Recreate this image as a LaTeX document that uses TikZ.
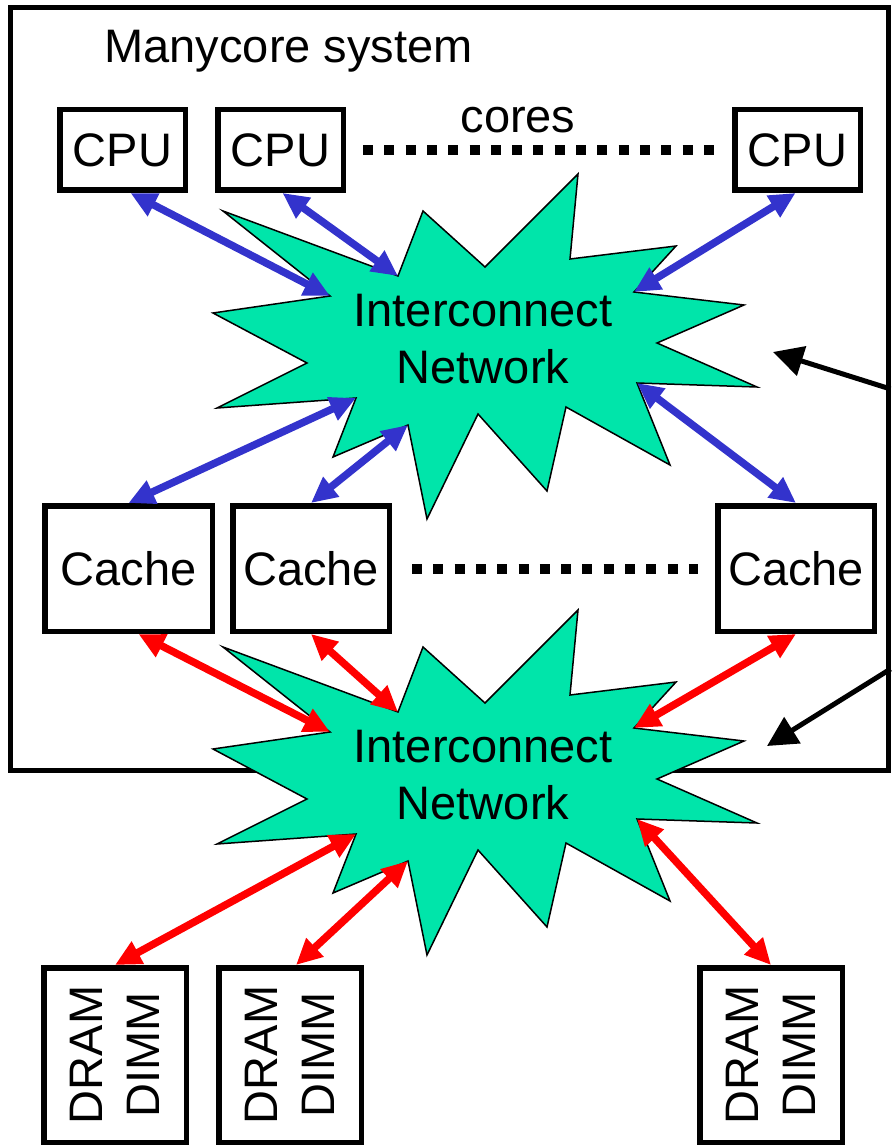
\documentclass[tikz,border=0pt]{standalone}
\usepackage{fontspec}
\setmainfont{Liberation Sans}
\usepackage{tikz}
\usetikzlibrary{arrows.meta, positioning}
\definecolor{netgreen}{RGB}{0,229,170}
\definecolor{linkblue}{RGB}{51,51,204}

% interconnect starburst: #1 = name, #2 = vertical offset
\newcommand{\netburst}[2]{%
  \begin{scope}[shift={(0,#2)}]
    \draw[burst] (578,174) -- (570,259) -- (676,246) -- (634,292) -- (744,305)
      -- (657,343) -- (757,387) -- (637,383) -- (670,465) -- (566,407)
      -- (547,491) -- (478,414) -- (427,519) -- (408,425) -- (333,457)
      -- (356,398) -- (217,408) -- (307,363) -- (213,313) -- (330,296)
      -- (223,211) -- (398,276) -- (423,211) -- (485,267) -- cycle;
    \coordinate (#1-nw) at (330,296);
    \coordinate (#1-n)  at (398,276);
    \coordinate (#1-ne) at (634,292);
    \coordinate (#1-sw) at (356,398);
    \coordinate (#1-s)  at (408,425);
    \coordinate (#1-se) at (637,383);
    \node[nettext] (#1) at (483,339) {Interconnect\\Network};
  \end{scope}}

\begin{document}
\begin{tikzpicture}[x=1pt, y=-1pt,
    every node/.style={font=\fontsize{47}{57}\selectfont},
    box/.style={draw, line width=5.5pt, inner sep=0pt},
    cpubox/.style={box, minimum width=125.5pt, minimum height=80.5pt},
    cachebox/.style={box, minimum width=156.5pt, minimum height=125.5pt},
    drambox/.style={box, rotate=90, align=center, minimum width=174.5pt, minimum height=142.5pt},
    burst/.style={draw, line width=1.5pt, fill=netgreen},
    nettext/.style={align=center, inner sep=0pt},
    blink/.style={line width=7.5pt, linkblue, {Triangle[length=26pt,width=24pt]}-{Triangle[length=26pt,width=24pt]}},
    rlink/.style={line width=7.5pt, red, {Triangle[length=26pt,width=24pt]}-{Triangle[length=26pt,width=24pt]}},
    hint/.style={line width=5pt, -{Triangle[length=30pt,width=30pt]}},
    dotrow/.style={line width=10pt, dash pattern=on 10pt off 11.3pt}]
  \useasboundingbox (0,0) rectangle (893,1147);

  \node[box, line width=5pt, minimum width=878pt, minimum height=762pt] (sys) at (449,389) {};
  \node[anchor=base west] (title) at (101,63) {Manycore system};

  % cores
  \node[cpubox] (cpu1) at (122.5,150) {CPU};
  \node[cpubox, right=27pt of cpu1] (cpu2) {CPU};
  \node[cpubox] (cpu3) at (797.5,150) {CPU};
  \node[anchor=base] (cores) at (518,133) {cores};
  \draw[dotrow] ([xshift=17pt]cpu2.east) -- ([xshift=-18pt]cpu3.west);

  % caches
  \node[cachebox, minimum width=167.5pt] (cache1) at (128.5,568.5) {Cache};
  \node[cachebox, right=15pt of cache1] (cache2) {Cache};
  \node[cachebox] (cache3) at (796,568.5) {Cache};
  \draw[dotrow] ([xshift=20pt]cache2.east) -- ([xshift=-17pt]cache3.west);

  % memory
  \node[drambox] (dram1) at (115,1055) {DRAM\\DIMM};
  \node[drambox] (dram2) at (290,1055) {DRAM\\DIMM};
  \node[drambox] (dram3) at (771,1055) {DRAM\\DIMM};

  \netburst{net1}{0}
  \netburst{net2}{436}

  \draw[blink] ([xshift=8pt]cpu1.south) -- (net1-nw);
  \draw[blink] ([xshift=2pt]cpu2.south) -- (net1-n);
  \draw[blink] ([xshift=-2pt]cpu3.south) -- (net1-ne);
  \draw[blink] (cache1.north) -- (net1-sw);
  \draw[blink] (cache2.north) -- (net1-s);
  \draw[blink] (cache3.north) -- (net1-se);

  \draw[rlink] ([xshift=10pt]cache1.south) -- (net2-nw);
  \draw[rlink] (cache2.south) -- (net2-n);
  \draw[rlink] (cache3.south) -- (net2-ne);
  \draw[rlink] (dram1.east) -- (net2-sw);
  \draw[rlink] ([xshift=6pt]dram2.east) -- (net2-s);
  \draw[rlink] (dram3.east) -- (net2-se);

  % pointers from the side
  \coordinate (hint1) at (773,352);
  \coordinate (hint2) at (767,746);
  \draw[hint] (sys.east) -- (hint1);
  \draw[hint] ([yshift=-280pt]sys.east) -- (hint2);
\end{tikzpicture}
\end{document}
